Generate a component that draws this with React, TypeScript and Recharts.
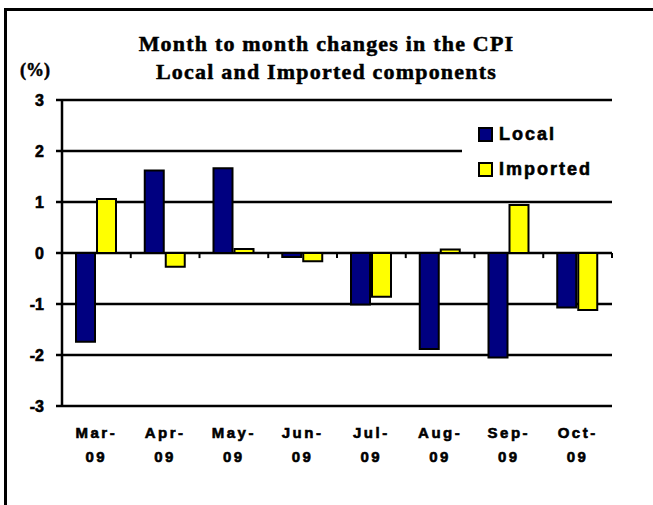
import React from 'react';
import { BarChart, Bar, XAxis, YAxis, CartesianGrid, ReferenceLine } from 'recharts';

const months = ['Mar-09', 'Apr-09', 'May-09', 'Jun-09', 'Jul-09', 'Aug-09', 'Sep-09', 'Oct-09'];
const localChange = [-1.74, 1.62, 1.66, -0.08, -1.01, -1.88, -2.05, -1.07];
const importedChange = [1.06, -0.27, 0.08, -0.16, -0.86, 0.07, 0.94, -1.12];
const yTicks = [-3, -2, -1, 0, 1, 2, 3];

const data = months.map((m, i) => ({ month: m, local: localChange[i], imported: importedChange[i] }));

const series = [
    { key: 'local', name: 'Local', color: '#000080' },
    { key: 'imported', name: 'Imported', color: '#ffff00' },
];

const tickFont = { fontFamily: 'Arial, "Liberation Sans", sans-serif', fontWeight: 'bold' as const };

const MonthTick = (props: any) => {
    const { x, y, payload } = props;
    const [mon, yr] = String(payload.value).split('-');
    return (
        <text x={x} y={y} textAnchor="middle" fill="#000" stroke="#000" strokeWidth={0.6} fontSize={15} style={{ ...tickFont, letterSpacing: 2.5 }}>
            <tspan x={x} dy={24}>{mon + '-'}</tspan>
            <tspan x={x} dy={24}>{yr}</tspan>
        </text>
    );
};

const YTick = (props: any) => {
    const { x, y, payload } = props;
    return (
        <text x={x} y={y} dy={6} textAnchor="end" fill="#000" stroke="#000" strokeWidth={0.6} fontSize={16} style={tickFont}>
            {payload.value}
        </text>
    );
};

const LegendBox = () => (
    <div style={{ position: 'absolute', left: 462, top: 107, width: 150, height: 80, background: '#fff', padding: '10px 0 0 16px', boxSizing: 'border-box' }}>
        {series.map((it) => (
            <div key={it.name} style={{ display: 'flex', alignItems: 'center', height: 35 }}>
                <span style={{ width: 11, height: 11, background: it.color, border: '2px solid #000', marginRight: 6 }} />
                <span style={{ ...tickFont, fontSize: 18, letterSpacing: 2, color: '#000', WebkitTextStroke: '0.6px #000' }}>{it.name}</span>
            </div>
        ))}
    </div>
);

const App = () => {
    return (
        <div style={{ position: 'fixed', left: 0, top: 0, width: 653, height: 505, background: '#fff', overflow: 'hidden' }}>
            <div style={{ position: 'absolute', left: 4, top: 8, width: 700, height: 600, borderTop: '3px solid #000', borderLeft: '3px solid #000' }} />
            <div style={{ position: 'absolute', left: 0, width: 653, top: 30, textAlign: 'center', fontFamily: '"Liberation Serif", "Times New Roman", serif', fontWeight: 'bold', fontSize: 22, letterSpacing: 1.2, lineHeight: '28px', WebkitTextStroke: '0.5px #000' }}>
                <div>Month to month changes in the CPI</div>
                <div>Local and Imported components</div>
            </div>
            <div style={{ position: 'absolute', left: 20, top: 60, fontFamily: '"Liberation Serif", serif', fontWeight: 'bold', fontSize: 18, WebkitTextStroke: '0.5px #000' }}>(%)</div>
            <div style={{ position: 'absolute', left: 0, top: 0 }}>
                <BarChart width={653} height={505} data={data} margin={{ top: 100, right: 41, left: 0, bottom: 39 }} barSize={19} barGap={2}>
                    <CartesianGrid vertical={false} stroke="#000" strokeWidth={2.5} />
                    <XAxis dataKey="month" axisLine={false} tickLine={false} height={60} tick={<MonthTick />} interval={0} />
                    <YAxis
                        domain={[-3, 3]}
                        ticks={yTicks}
                        interval={0}
                        width={62}
                        axisLine={{ stroke: '#000', strokeWidth: 2.5 }}
                        tickLine={{ stroke: '#000', strokeWidth: 2.5 }}
                        tickSize={6}
                        tickMargin={12}
                        tick={<YTick />}
                    />
                    {months.slice(1).map((m) => (
                        <ReferenceLine key={m} segment={[{ x: m, y: 0 }, { x: m, y: -0.1 }]} position="start" stroke="#000" strokeWidth={2} />
                    ))}
                    <ReferenceLine segment={[{ x: months[months.length - 1], y: 0 }, { x: months[months.length - 1], y: -0.1 }]} position="end" stroke="#000" strokeWidth={2} />
                    {series.map((s) => (
                        <Bar key={s.key} dataKey={s.key} name={s.name} fill={s.color} stroke="#000" strokeWidth={2} isAnimationActive={false} />
                    ))}
                </BarChart>
            </div>
            <LegendBox />
        </div>
    );
};

export default App;
